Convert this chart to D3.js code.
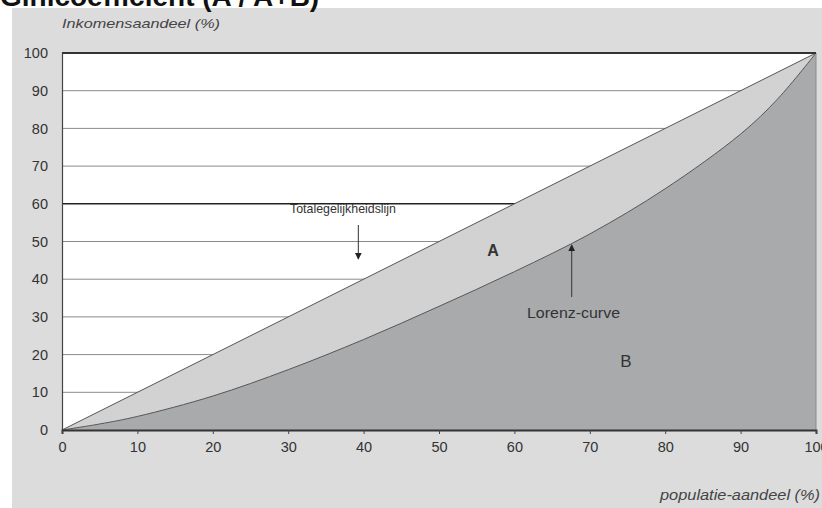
<!DOCTYPE html>
<html><head><meta charset="utf-8">
<script src="https://cdn.jsdelivr.net/npm/d3@7/dist/d3.min.js"></script>
<style>body{margin:0;background:#fff}svg{display:block}</style>
</head><body>
<svg id="c" width="822" height="508"></svg>
<script>
const populationShare = [0, 5, 10, 20, 30, 40, 50, 60, 70, 80, 90, 95, 100];
const lorenzIncome    = [0, 1.6, 3.6, 9, 16, 24, 32.8, 42, 52, 64, 78.5, 88, 100];
const xTicks = [0, 10, 20, 30, 40, 50, 60, 70, 80, 90, 100];
const yTicks = [0, 10, 20, 30, 40, 50, 60, 70, 80, 90, 100];
const titleText = "Ginicoëfficiënt (A / A+B)";
const yLabel = "Inkomensaandeel (%)";
const xLabel = "populatie-aandeel (%)";

const svg = d3.select("#c");
const x = d3.scaleLinear().domain([0, 100]).range([62, 816]);
const y = d3.scaleLinear().domain([0, 100]).range([430, 53]);
const font = "Liberation Sans, Arial, sans-serif";

// background panel
svg.append("rect").attr("x", 12).attr("y", 8).attr("width", 810).attr("height", 500).attr("fill", "#dcdcdd");
// plot area
svg.append("rect").attr("x", x(0)).attr("y", y(100)).attr("width", x(100) - x(0)).attr("height", y(0) - y(100)).attr("fill", "#fff");

// title (partly cut off at the top, as in the reference)
svg.append("text").attr("x", 0).attr("y", 6).attr("font-family", font)
  .attr("font-weight", "bold").attr("font-size", 28).attr("fill", "#111").text(titleText);

// gridlines
svg.append("g").selectAll("line").data(yTicks.filter(d => d > 0 && d < 100)).join("line")
  .attr("x1", x(0)).attr("x2", x(100)).attr("y1", d => y(d)).attr("y2", d => y(d))
  .attr("stroke", d => d === 60 ? "#222" : "#8a8a8a").attr("stroke-width", d => d === 60 ? 1.5 : 1);

const pts = populationShare.map((p, i) => [p, lorenzIncome[i]]);
const curve = d3.curveCatmullRom.alpha(0.5);
// area A (between equality line and Lorenz curve)
const areaA = d3.area().x(d => x(d[0])).y0(d => y(d[1])).y1(d => y(d[0])).curve(curve);
svg.append("path").datum(pts).attr("d", areaA).attr("fill", "#d2d2d3");
// area B
const areaB = d3.area().x(d => x(d[0])).y0(y(0)).y1(d => y(d[1])).curve(curve);
svg.append("path").datum(pts).attr("d", areaB).attr("fill", "#a9aaac");

// equality line
svg.append("line").attr("x1", x(0)).attr("y1", y(0)).attr("x2", x(100)).attr("y2", y(100))
  .attr("stroke", "#555").attr("stroke-width", 1);
// lorenz line
const line = d3.line().x(d => x(d[0])).y(d => y(d[1])).curve(curve);
svg.append("path").datum(pts).attr("d", line).attr("fill", "none").attr("stroke", "#555").attr("stroke-width", 1);

// frame
svg.append("line").attr("x1", x(100)).attr("x2", x(100)).attr("y1", y(0)).attr("y2", y(100)).attr("stroke", "#8a8a8a").attr("stroke-width", 1);
svg.append("line").attr("x1", x(0)).attr("x2", x(100)).attr("y1", y(100)).attr("y2", y(100)).attr("stroke", "#333").attr("stroke-width", 2);

// axes
const yAxis = svg.append("g").attr("transform", `translate(${x(0)},0)`)
  .call(d3.axisLeft(y).tickValues(yTicks).tickSize(0).tickPadding(14));
yAxis.select(".domain").attr("stroke", "#444").attr("stroke-width", 1.2);
yAxis.selectAll("text").attr("font-family", font).attr("font-size", 14.5).attr("fill", "#333");

const xAxis = svg.append("g").attr("transform", `translate(0,${y(0)})`)
  .call(d3.axisBottom(x).tickValues(xTicks).tickSize(4).tickPadding(8));
xAxis.select(".domain").attr("stroke", "#333").attr("stroke-width", 2);
xAxis.selectAll(".tick line").attr("stroke", "#444");
xAxis.selectAll("text").attr("font-family", font).attr("font-size", 14.5).attr("fill", "#333");

// axis titles
svg.append("text").attr("x", 62).attr("y", 28).attr("font-family", font).attr("font-style", "italic")
  .attr("font-size", 13).attr("fill", "#444").attr("textLength", 158).attr("lengthAdjust", "spacingAndGlyphs").text(yLabel);
svg.append("text").attr("x", 660).attr("y", 500).attr("font-family", font).attr("font-style", "italic")
  .attr("font-size", 14).attr("fill", "#444").attr("textLength", 160).attr("lengthAdjust", "spacingAndGlyphs").text(xLabel);

// annotations
svg.append("defs").append("marker").attr("id", "ah").attr("viewBox", "0 0 10 10").attr("refX", 9).attr("refY", 5)
  .attr("markerWidth", 7).attr("markerHeight", 7).attr("orient", "auto")
  .append("path").attr("d", "M0,0L10,5L0,10Z").attr("fill", "#222");

svg.append("text").attr("x", 290).attr("y", 213).attr("font-family", font)
  .attr("font-size", 13).attr("fill", "#333").attr("textLength", 106).attr("lengthAdjust", "spacingAndGlyphs").text("Totalegelijkheidslijn");
svg.append("line").attr("x1", x(39.3)).attr("x2", x(39.3)).attr("y1", 225).attr("y2", 259)
  .attr("stroke", "#333").attr("stroke-width", 1).attr("marker-end", "url(#ah)");

svg.append("text").attr("x", 493).attr("y", 256).attr("text-anchor", "middle").attr("font-family", font)
  .attr("font-weight", "bold").attr("font-size", 16).attr("fill", "#333").text("A");
svg.append("line").attr("x1", x(67.6)).attr("x2", x(67.6)).attr("y1", 297).attr("y2", 245)
  .attr("stroke", "#333").attr("stroke-width", 1).attr("marker-end", "url(#ah)");
svg.append("text").attr("x", 527).attr("y", 318).attr("font-family", font)
  .attr("font-size", 15).attr("fill", "#333").attr("textLength", 93).attr("lengthAdjust", "spacingAndGlyphs").text("Lorenz-curve");
svg.append("text").attr("x", 626).attr("y", 367).attr("text-anchor", "middle").attr("font-family", font)
  .attr("font-size", 17).attr("fill", "#333").text("B");
</script>
</body></html>
